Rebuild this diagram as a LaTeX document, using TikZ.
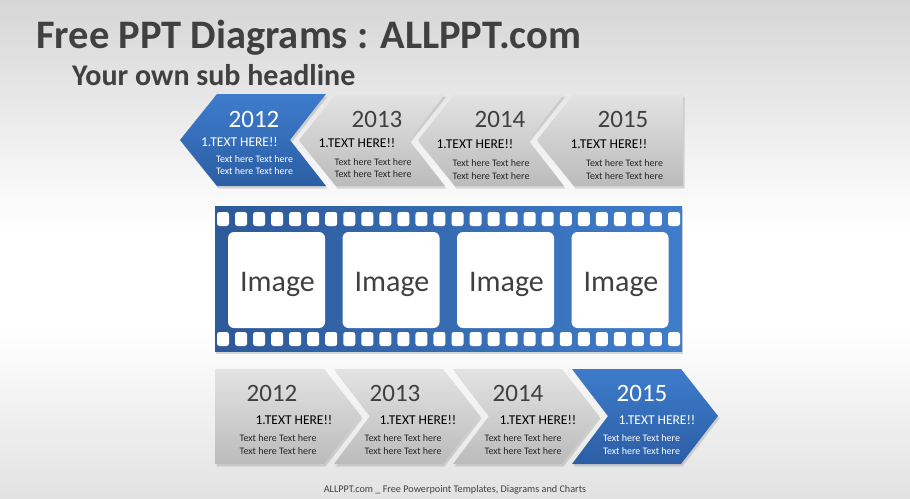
\documentclass[tikz,border=0pt]{standalone}
\usepackage{fontspec}
\setmainfont{Carlito}
\usetikzlibrary{shadows}
\definecolor{bluetop}{HTML}{3D7CCC}
\definecolor{bluebot}{HTML}{2C5EA4}
\definecolor{graytop}{HTML}{E3E3E3}
\definecolor{graybot}{HTML}{BBBBBB}
\definecolor{txtdark}{HTML}{404040}
\definecolor{filmL}{HTML}{2D5A99}
\definecolor{filmR}{HTML}{3F7DCB}
\definecolor{bgtop}{HTML}{D6D6D6}
\definecolor{bgbot}{HTML}{E2E2E2}
\tikzset{
  shapeshadow/.style={drop shadow={opacity=0.28,shadow xshift=1.5pt,shadow yshift=-2.5pt}},
  blueshape/.style={top color=bluetop,bottom color=bluebot,shapeshadow},
  grayshape/.style={top color=graytop,bottom color=graybot,shapeshadow},
  yearlbl/.style={inner sep=0pt,text=txtdark,font=\fontsize{25}{25}\selectfont},
  headlbl/.style={inner sep=0pt,text=black,font=\fontsize{13.5}{13.5}\selectfont},
  bodylbl/.style={inner sep=0pt,text=black!85,align=center,font=\fontsize{10}{12.5}\selectfont},
  onblue/.style={text=white},
  framebox/.style={fill=white,rounded corners=6pt,minimum width=97pt,minimum height=96pt,inner sep=0pt},
  imgtext/.style={inner sep=0pt,text depth=0pt,text=txtdark,font=\fontsize{30}{30}\selectfont},
  hole/.style={fill=white,rounded corners=2.5pt}
}
\begin{document}
\begin{tikzpicture}[x=1pt,y=-1pt]
\useasboundingbox (0,0) rectangle (910,498);
% background
\fill[white] (0,0) rectangle (910,498);
\shade[top color=bgtop,bottom color=white] (0,0) rectangle (910,230);
\shade[top color=white,bottom color=bgbot] (0,330) rectangle (910,498);

% titles
\node[anchor=west,inner sep=0pt,text=txtdark,font=\fontsize{40.5}{40.5}\selectfont\bfseries] (title) at (36,38) {Free PPT Diagrams : ALLPPT.com};
\node[anchor=west,inner sep=0pt,text=txtdark,font=\fontsize{30}{30}\selectfont\bfseries] (subtitle) at (72,75) {Your own sub headline};

% top row (pointing left)
\path[blueshape] (217,94) -- (326,94) -- (290,140) -- (326,186) -- (217,186) -- (180,140) -- cycle;
\path[grayshape] (336,94) -- (445,94) -- (409,140) -- (445,186) -- (336,186) -- (299,140) -- cycle;
\path[grayshape] (455,94) -- (564,94) -- (528,140) -- (564,186) -- (455,186) -- (418,140) -- cycle;
\path[grayshape] (574,94) -- (683,94) -- (683,186) -- (574,186) -- (537,140) -- cycle;

\node[yearlbl,onblue] (ty1) at (254,119) {2012};
\node[headlbl,onblue] (th1) at (239.5,142) {1.TEXT HERE!!};
\node[bodylbl,onblue] (tb1) at (254.5,165) {Text here Text here\\Text here Text here};
\node[yearlbl] (ty2) at (377,119) {2013};
\node[headlbl] (th2) at (357,143) {1.TEXT HERE!!};
\node[bodylbl] (tb2) at (373,168) {Text here Text here\\Text here Text here};
\node[yearlbl] (ty3) at (500,119) {2014};
\node[headlbl] (th3) at (475,144) {1.TEXT HERE!!};
\node[bodylbl] (tb3) at (491,169.5) {Text here Text here\\Text here Text here};
\node[yearlbl] (ty4) at (623,119) {2015};
\node[headlbl] (th4) at (609,144) {1.TEXT HERE!!};
\node[bodylbl] (tb4) at (624.5,169.5) {Text here Text here\\Text here Text here};

% film strip
\shade[left color=filmL,right color=filmR,drop shadow={opacity=0.3,shadow xshift=1pt,shadow yshift=-2.5pt}] (215,206) rectangle (682,351);
\foreach \k in {0,...,25}{
  \fill[hole] ({217+18.04*\k},212) rectangle ++(12,14);
  \fill[hole] ({217+18.04*\k},332) rectangle ++(12,14);
}
\foreach \k in {0,...,3}{
  \node[framebox] (img\k) at ({276.5+114.5*\k},280) {};
  \node[imgtext] (imgtxt\k) at ({277.5+114.5*\k},282) {Image};
}

% bottom row (pointing right)
\path[grayshape] (215,369) -- (324,369) -- (361,416) -- (324,464) -- (215,464) -- cycle;
\path[grayshape] (334,369) -- (443,369) -- (480,416) -- (443,464) -- (334,464) -- (370,416) -- cycle;
\path[grayshape] (453,369) -- (562,369) -- (599,416) -- (562,464) -- (453,464) -- (489,416) -- cycle;
\path[blueshape] (572,369) -- (681,369) -- (718,416) -- (681,464) -- (572,464) -- (608,416) -- cycle;

\node[yearlbl] (by1) at (272,393) {2012};
\node[headlbl] (bh1) at (294,420) {1.TEXT HERE!!};
\node[bodylbl] (bb1) at (278,444.5) {Text here Text here\\Text here Text here};
\node[yearlbl] (by2) at (395,393) {2013};
\node[headlbl] (bh2) at (418,420) {1.TEXT HERE!!};
\node[bodylbl] (bb2) at (403,444.5) {Text here Text here\\Text here Text here};
\node[yearlbl] (by3) at (518,393) {2014};
\node[headlbl] (bh3) at (538,420) {1.TEXT HERE!!};
\node[bodylbl] (bb3) at (523,444.5) {Text here Text here\\Text here Text here};
\node[yearlbl,onblue] (by4) at (642,393) {2015};
\node[headlbl,onblue] (bh4) at (657,420) {1.TEXT HERE!!};
\node[bodylbl,onblue] (bb4) at (641.5,444.5) {Text here Text here\\Text here Text here};

% footer
\node[inner sep=0pt,text=txtdark,font=\fontsize{10.2}{10.2}\selectfont] (footer) at (455,490) {ALLPPT.com \_ Free Powerpoint Templates, Diagrams and Charts};
\end{tikzpicture}
\end{document}
